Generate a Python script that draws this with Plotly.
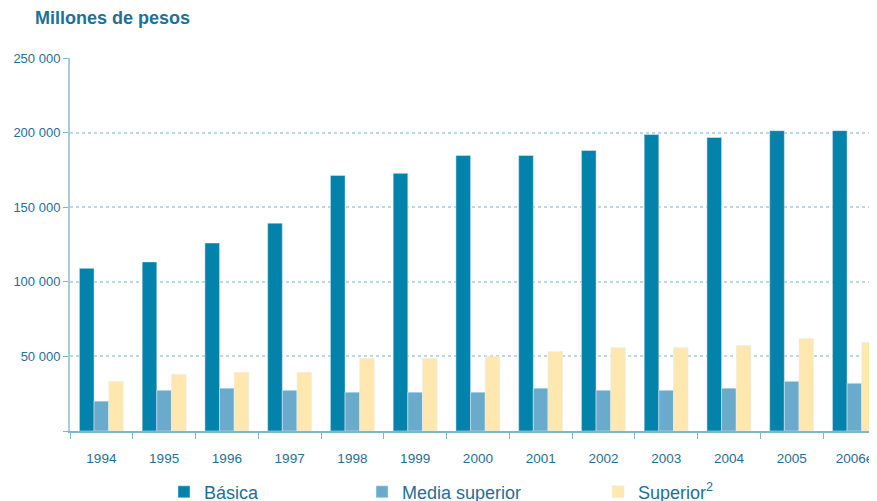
import plotly.graph_objects as go

years = ["1994", "1995", "1996", "1997", "1998", "1999", "2000", "2001",
         "2002", "2003", "2004", "2005", "2006e"]
basica = [109000, 113300, 126000, 139300, 171300, 172700, 184700, 184700,
          188000, 198700, 196700, 201300, 201300]
media_superior = [20000, 27300, 28700, 27300, 26000, 26000, 26000, 28700,
                  27300, 27300, 28700, 33300, 32000]
superior = [33300, 38000, 39300, 39300, 48700, 48700, 50000, 53300,
            56000, 56000, 57300, 62000, 59300]
y_ticks = [0, 50000, 100000, 150000, 200000, 250000]
y_tick_labels = ["", "50 000", "100 000", "150 000", "200 000", "250 000"]

BLUE_TXT = "#1f6f97"

fig = go.Figure()
fig.add_trace(go.Bar(x=years, y=basica, name="Básica", marker_color="#0382ab",
                     legend="legend"))
fig.add_trace(go.Bar(x=years, y=media_superior, name="Media superior", marker_color="#6aaaca",
                     legend="legend2"))
fig.add_trace(go.Bar(x=years, y=superior, name="Superior<sup>2</sup>", marker_color="#fee8b0",
                     legend="legend3"))

def leg(x):
    return dict(orientation="h", xref="container", yref="container", x=x, xanchor="left",
                y=0.018, yanchor="middle", font=dict(size=18, color=BLUE_TXT),
                itemwidth=30, bgcolor="rgba(0,0,0,0)")

fig.update_layout(
    width=869, height=493,
    margin=dict(l=62, r=0, t=50, b=70, autoexpand=False),
    paper_bgcolor="white", plot_bgcolor="white",
    barmode="group", bargap=0.3, bargroupgap=0,
    font=dict(family="Liberation Sans, Arial, sans-serif", color=BLUE_TXT, size=13),
    showlegend=True,
    legend=leg(0.1795),
    legend2=leg(0.4074),
    legend3=leg(0.679),
    annotations=[dict(text="<b>Millones de pesos</b>", xref="paper", yref="paper",
                      x=-0.046, y=1.107, xanchor="left", yanchor="middle", showarrow=False,
                      font=dict(size=18, color=BLUE_TXT))],
)
fig.update_xaxes(
    range=[-0.5, 12.36], showgrid=False,
    showline=True, linecolor="#7fb5cf", linewidth=2,
    ticks="outside", tickson="boundaries", ticklen=6, tickcolor="#7fb5cf",
    ticklabelstandoff=14, tickfont=dict(size=13.5, color=BLUE_TXT),
)
fig.update_yaxes(
    range=[0, 250000], tickvals=y_ticks, ticktext=y_tick_labels,
    showgrid=True, gridcolor="#bcd8e5", griddash="dot", gridwidth=1.5,
    zeroline=False,
    showline=True, linecolor="#a8cadb", linewidth=2,
    ticks="outside", ticklen=5, tickcolor="#7fb5cf",
    tickfont=dict(size=13, color=BLUE_TXT),
)

fig.write_html("out.html")
